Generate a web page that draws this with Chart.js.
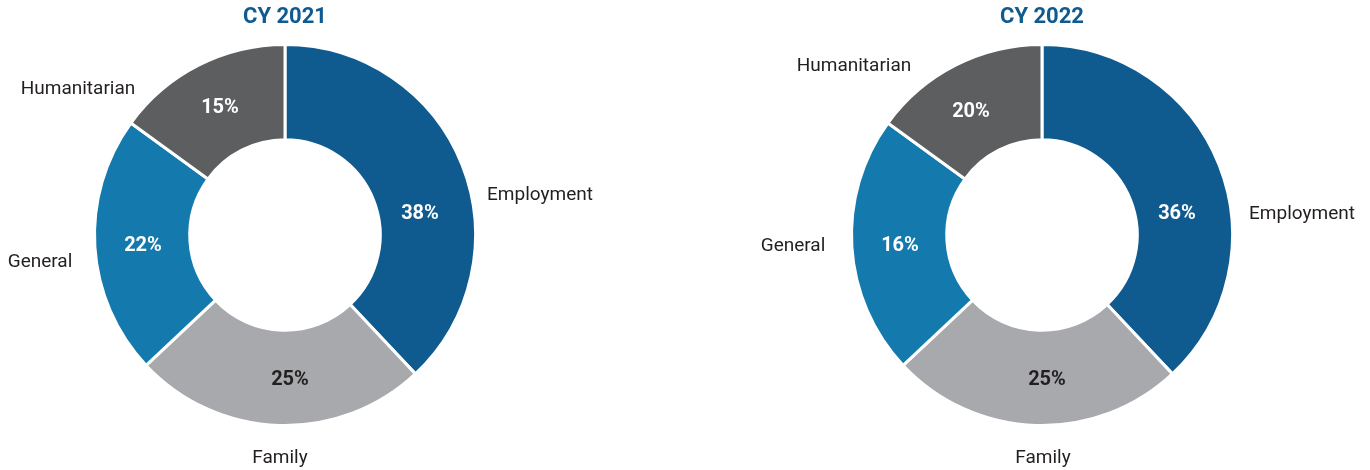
<!DOCTYPE html>
<html>
<head>
<meta charset="utf-8">
<script src="https://cdn.jsdelivr.net/npm/chart.js@4"></script>
<style>
  html, body { margin: 0; padding: 0; background: #fff; }
  #wrap { position: relative; width: 1370px; height: 470px; }
  .box { position: absolute; top: 0; width: 685px; height: 470px; }
</style>
</head>
<body>
<div id="wrap">
  <div class="box" style="left:0"><canvas id="chart2021"></canvas></div>
  <div class="box" style="left:685px"><canvas id="chart2022"></canvas></div>
</div>
<script>
const categories = ['Employment', 'Family', 'General', 'Humanitarian'];

// printed shares
const shares2021 = [38, 25, 22, 15];
const shares2022 = [36, 25, 16, 20];

// slice sizes as drawn (the 2022 ring in the picture uses the same slice sizes as 2021)
const slices2021 = [38, 25, 22, 15];
const slices2022 = [38, 25, 22, 15];

const colors = ['#0f5a8f', '#a7a9ac', '#1479ac', '#5d5e60'];
const pctColors = ['#ffffff', '#231f20', '#ffffff', '#ffffff'];

// label placement, offsets from ring centre in px
const place2021 = {
    pct:  [[135, -21], [5, 145], [-142, 11], [-65, -127]],
    name: [[255, -40], [-5, 223], [-245, 27], [-207, -146]]
};
const place2022 = {
    pct:  [[135, -21], [5, 145], [-142, 11], [-71, -123]],
    name: [[260, -21], [1, 223], [-249, 11], [-188, -169]]
};

const FONT = 'Roboto, "Noto Sans", sans-serif';

const sliceLabels = {
    id: 'sliceLabels',
    afterDatasetsDraw(chart, args, opts) {
        const ctx = chart.ctx;
        const meta = chart.getDatasetMeta(0);
        ctx.save();
        ctx.textAlign = 'center';
        ctx.textBaseline = 'middle';
        meta.data.forEach((arc, i) => {
            const cx = arc.x, cy = arc.y;
            ctx.font = 'bold 20px ' + FONT;
            ctx.fillStyle = pctColors[i];
            ctx.fillText(opts.shares[i] + '%', cx + opts.place.pct[i][0], cy + opts.place.pct[i][1]);
            ctx.font = '19px ' + FONT;
            ctx.fillStyle = '#231f20';
            ctx.fillText(chart.data.labels[i], cx + opts.place.name[i][0], cy + opts.place.name[i][1]);
        });
        ctx.restore();
    }
};

function makeChart(id, title, slices, shares, place, padLeft, padRight) {
    return new Chart(document.getElementById(id), {
        type: 'doughnut',
        data: {
            labels: categories,
            datasets: [{
                data: slices,
                backgroundColor: colors,
                borderColor: '#ffffff',
                borderWidth: 3,
                hoverOffset: 0
            }]
        },
        options: {
            responsive: true,
            maintainAspectRatio: false,
            animation: false,
            cutout: '50%',
            layout: { padding: { top: 4, bottom: 43, left: padLeft, right: padRight } },
            plugins: {
                legend: { display: false },
                tooltip: { enabled: false },
                title: {
                    display: true,
                    text: title,
                    color: '#0f5a8f',
                    font: { family: FONT, size: 22, weight: 'bold' },
                    padding: { top: 0, bottom: 12.6 }
                },
                sliceLabels: { shares: shares, place: place }
            }
        },
        plugins: [sliceLabels]
    });
}

makeChart('chart2021', 'CY 2021', slices2021, shares2021, place2021, 93, 208);
makeChart('chart2022', 'CY 2022', slices2022, shares2022, place2022, 165, 136);
</script>
</body>
</html>
